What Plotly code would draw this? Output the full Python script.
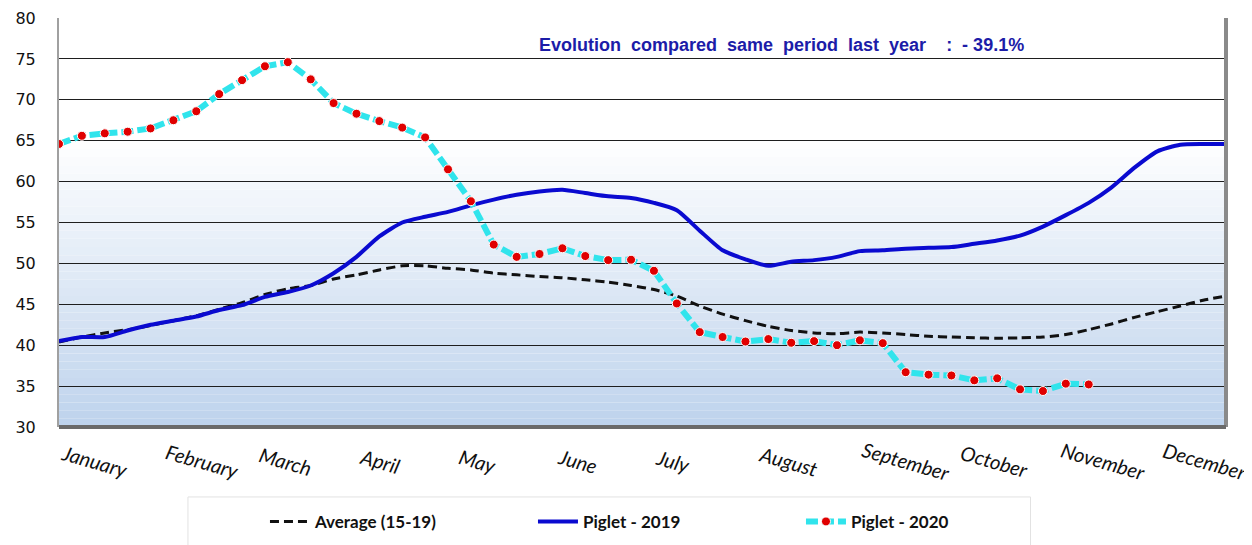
import plotly.graph_objects as go

weeks = list(range(1, 53))

avg_15_19 = [40.4, 41.0, 41.5, 41.9, 42.4, 43.0, 43.6, 44.4, 45.2, 46.2,
             46.9, 47.3, 48.1, 48.6, 49.2, 49.7, 49.7, 49.4, 49.2, 48.8,
             48.6, 48.4, 48.25, 48.0, 47.7, 47.3, 46.8, 46.0, 44.8, 43.8,
             43.0, 42.3, 41.8, 41.5, 41.4, 41.6, 41.5, 41.3, 41.1, 41.0,
             40.9, 40.85, 40.9, 41.0, 41.3, 41.9, 42.6, 43.4, 44.1, 44.8,
             45.5, 46.0]

piglet_2019 = [40.5, 41.0, 41.0, 41.8, 42.5, 43.0, 43.5, 44.3, 44.9, 45.9,
               46.5, 47.3, 48.8, 50.8, 53.3, 55.0, 55.7, 56.3, 57.1, 57.8,
               58.4, 58.8, 59.0, 58.6, 58.2, 58.0, 57.4, 56.5, 54.0, 51.6,
               50.5, 49.7, 50.2, 50.4, 50.8, 51.5, 51.6, 51.8, 51.9, 52.0,
               52.4, 52.8, 53.4, 54.5, 55.9, 57.4, 59.3, 61.7, 63.7, 64.5,
               64.6, 64.6]

piglet_2020 = [64.6, 65.6, 65.9, 66.1, 66.5, 67.5, 68.6, 70.7, 72.4, 74.1,
               74.6, 72.5, 69.6, 68.3, 67.4, 66.6, 65.4, 61.5, 57.6, 52.3,
               50.8, 51.15, 51.85, 50.9, 50.4, 50.45, 49.1, 45.1, 41.6, 41.0,
               40.45, 40.75, 40.3, 40.5, 40.0, 40.6, 40.25, 36.7, 36.4, 36.3,
               35.7, 35.95, 34.6, 34.4, 35.3, 35.2]

month_labels = ["January", "February", "March", "April", "May", "June", "July",
                "August", "September", "October", "November", "December"]
month_pos = [2.56, 7.25, 10.88, 15.04, 19.29, 23.67, 27.83, 32.86, 38.03,
             41.88, 46.65, 51.07]

y_ticks = [30, 35, 40, 45, 50, 55, 60, 65, 70, 75, 80]

title_text = "Evolution  compared  same  period  last  year    :  - 39.1%"

fig = go.Figure()

fig.add_trace(go.Scatter(
    x=weeks, y=avg_15_19, mode="lines", name="Average (15-19)",
    line=dict(color="#111111", width=3, dash="9px,5px", shape="spline", smoothing=0.6),
))
fig.add_trace(go.Scatter(
    x=weeks, y=piglet_2019, mode="lines", name="Piglet - 2019",
    line=dict(color="#0a0ad0", width=4, shape="spline", smoothing=0.6),
))
fig.add_trace(go.Scatter(
    x=weeks[:len(piglet_2020)], y=piglet_2020, mode="lines+markers", name="Piglet - 2020",
    line=dict(color="#30e4ec", width=6, dash="12px,4px"),
    marker=dict(color="#e00000", size=9, line=dict(color="white", width=1)),
))

# background gradient (white above 65, light blue towards 30)
shapes = []
n = 35
top_c = (255, 255, 255)
bot_c = (190, 211, 237)
for i in range(n):
    y0 = 30 + i * (35 / n)
    y1 = y0 + 35 / n
    t = (i + 0.5) / n
    c = tuple(int(bot_c[k] + (top_c[k] - bot_c[k]) * t) for k in range(3))
    shapes.append(dict(type="rect", xref="x domain", yref="y", x0=0, x1=1, y0=y0, y1=y1,
                       fillcolor="rgb(%d,%d,%d)" % c, line=dict(width=0), layer="below"))
# right and bottom borders
shapes.append(dict(type="line", xref="x domain", yref="y domain", x0=1, x1=1, y0=0, y1=1,
                   line=dict(color="#8a8a8a", width=4)))
shapes.append(dict(type="line", xref="x domain", yref="y domain", x0=0, x1=1, y0=0, y1=0,
                   line=dict(color="#6a6a6a", width=4)))
# legend frame
shapes.append(dict(type="rect", xref="paper", yref="paper", x0=0.1105, x1=0.8325,
                   y0=-0.32, y1=-0.171, line=dict(color="#e2e2e2", width=1),
                   fillcolor="rgba(0,0,0,0)", layer="below"))

annotations = []
for lab, pos in zip(month_labels, month_pos):
    annotations.append(dict(
        x=pos, y=-0.083, xref="x", yref="paper", text=lab, showarrow=False,
        textangle=16, xanchor="center", yanchor="middle",
        font=dict(family="Lato, Open Sans, sans-serif", size=20, color="#111111", style="italic"),
    ))
annotations.append(dict(
    x=0.6195, y=0.934, xref="paper", yref="paper", text=title_text, showarrow=False,
    xanchor="center", yanchor="middle",
    font=dict(family="Liberation Sans, Arial, sans-serif", size=18, color="#1c1ca8", weight="bold"),
))

fig.update_layout(
    width=1244, height=537,
    margin=dict(l=51, r=26, t=10, b=118, autoexpand=False),
    paper_bgcolor="white",
    plot_bgcolor="white",
    shapes=shapes,
    annotations=annotations,
    showlegend=True,
    legend=dict(
        orientation="h", x=0.1765, xanchor="left", y=-0.232, yanchor="middle",
        bgcolor="rgba(0,0,0,0)", borderwidth=0,
        font=dict(family="Lato, sans-serif", size=17, color="#111111", weight="bold"),
        entrywidth=213, itemwidth=40, tracegroupgap=0,
    ),
    xaxis=dict(
        range=[1, 52], showgrid=False, zeroline=False, showticklabels=False,
        showline=False, fixedrange=True,
    ),
    yaxis=dict(
        range=[30, 80], tickvals=y_ticks, showgrid=True, gridcolor="#1e1e1e", gridwidth=1,
        zeroline=False, showline=True, linecolor="#a0a0a0", linewidth=2,
        ticks="", ticklabelstandoff=18, automargin=False,
        tickfont=dict(family="DejaVu Sans, Verdana, sans-serif", size=16, color="#111111"),
    ),
)

fig.write_html("out.html")
